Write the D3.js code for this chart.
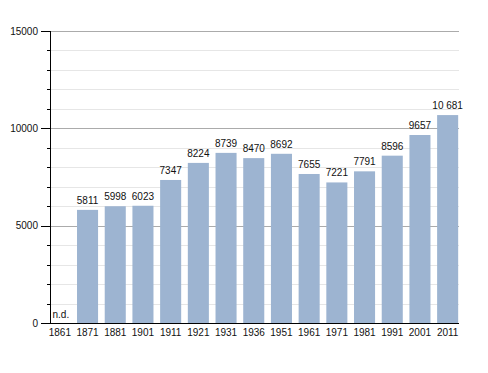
<!DOCTYPE html>
<html>
<head>
<meta charset="UTF-8">
<title>Population</title>
<script src="https://d3js.org/d3.v7.min.js"></script>
<style>
    body { margin: 0; background: #fff; }
    text { font-family: "Liberation Sans", Arial, sans-serif; font-size: 10px; fill: #111; }
</style>
</head>
<body>
<div id="chart"></div>
<script>
    // data
    const years = ["1861", "1871", "1881", "1901", "1911", "1921", "1931", "1936", "1951", "1961", "1971", "1981", "1991", "2001", "2011"];
    const population = [null, 5811, 5998, 6023, 7347, 8224, 8739, 8470, 8692, 7655, 7221, 7791, 8596, 9657, 10681];
    const yTicks = [0, 5000, 10000, 15000];
    const yMinor = d3.range(0, 15001, 1000);

    const width = 488, height = 373;
    const plotLeft = 50, plotRight = 459, plotTop = 31, plotBottom = 323;

    const svg = d3.select("#chart").append("svg")
        .attr("width", width)
        .attr("height", height);

    const x = d3.scaleBand()
        .domain(years)
        .range([46, 461.5])
        .paddingInner(0.24)
        .paddingOuter(0.12);

    const y = d3.scaleLinear()
        .domain([0, 15000])
        .range([plotBottom, plotTop]);

    const py = d => Math.round(y(d)) + 0.5;

    // minor grid
    svg.append("g").selectAll("line")
        .data(yMinor.filter(d => d % 5000 !== 0))
        .join("line")
        .attr("x1", plotLeft).attr("x2", plotRight)
        .attr("y1", py).attr("y2", py)
        .attr("stroke", "#e6e6e6");

    // major grid
    svg.append("g").selectAll("line")
        .data(yTicks.filter(d => d > 0))
        .join("line")
        .attr("x1", plotLeft).attr("x2", plotRight)
        .attr("y1", py).attr("y2", py)
        .attr("stroke", "#ababab");

    // bars
    svg.append("g").selectAll("rect")
        .data(years.map((d, i) => ({ year: d, value: population[i] })).filter(d => d.value != null))
        .join("rect")
        .attr("x", d => x(d.year))
        .attr("width", x.bandwidth())
        .attr("y", d => y(d.value))
        .attr("height", d => y(0) - y(d.value))
        .attr("fill", "#9db4d1");

    // value labels
    const fmt = v => v >= 10000 ? d3.format(",")(v).replace(",", " ") : String(v);
    svg.append("g").selectAll("text")
        .data(years.map((d, i) => ({ year: d, value: population[i] })))
        .join("text")
        .attr("x", d => d.value == null ? plotLeft + 2.5 : x(d.year) + x.bandwidth() / 2)
        .attr("y", d => d.value == null ? y(0) - 5 : y(d.value) - 6)
        .attr("text-anchor", d => d.value == null ? "start" : "middle")
        .text(d => d.value == null ? "n.d." : fmt(d.value));

    // y axis
    const yAxis = svg.append("g");
    yAxis.append("line")
        .attr("x1", plotLeft + 0.5).attr("x2", plotLeft + 0.5)
        .attr("y1", plotTop).attr("y2", plotBottom)
        .attr("stroke", "#000");
    yAxis.selectAll(".minor")
        .data(yMinor.filter(d => d % 5000 !== 0))
        .join("line")
        .attr("class", "minor")
        .attr("x1", plotLeft - 3).attr("x2", plotLeft)
        .attr("y1", py).attr("y2", py)
        .attr("stroke", "#000");
    yAxis.selectAll(".major")
        .data(yTicks)
        .join("line")
        .attr("class", "major")
        .attr("x1", plotLeft - 9).attr("x2", plotLeft)
        .attr("y1", py).attr("y2", py)
        .attr("stroke", "#000");
    yAxis.selectAll("text")
        .data(yTicks)
        .join("text")
        .attr("x", 38)
        .attr("y", d => y(d))
        .attr("dy", "0.35em")
        .attr("text-anchor", "end")
        .text(d => d);

    // x axis
    svg.append("line")
        .attr("x1", plotLeft).attr("x2", plotRight)
        .attr("y1", plotBottom + 0.5).attr("y2", plotBottom + 0.5)
        .attr("stroke", "#000");
    svg.append("g").selectAll("text")
        .data(years)
        .join("text")
        .attr("x", d => x(d) + x.bandwidth() / 2)
        .attr("y", 336)
        .attr("text-anchor", "middle")
        .text(d => d);
</script>
</body>
</html>
